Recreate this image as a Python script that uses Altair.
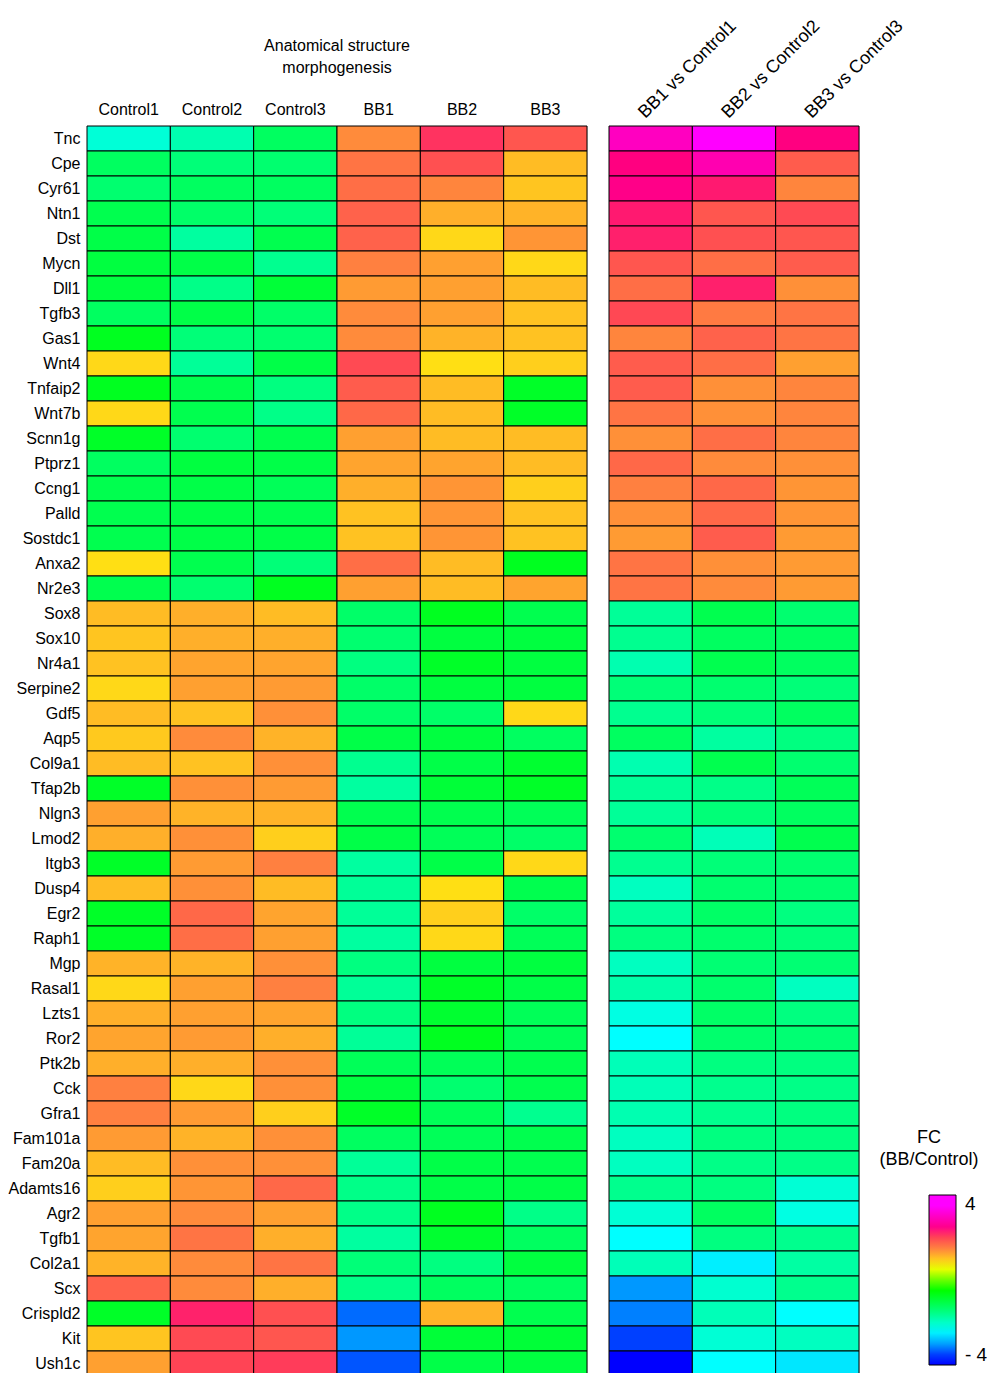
import altair as alt
import pandas as pd

genes = ["Tnc", "Cpe", "Cyr61", "Ntn1", "Dst", "Mycn", "Dll1", "Tgfb3", "Gas1", "Wnt4",
         "Tnfaip2", "Wnt7b", "Scnn1g", "Ptprz1", "Ccng1", "Palld", "Sostdc1", "Anxa2", "Nr2e3", "Sox8",
         "Sox10", "Nr4a1", "Serpine2", "Gdf5", "Aqp5", "Col9a1", "Tfap2b", "Nlgn3", "Lmod2", "Itgb3",
         "Dusp4", "Egr2", "Raph1", "Mgp", "Rasal1", "Lzts1", "Ror2", "Ptk2b", "Cck", "Gfra1",
         "Fam101a", "Fam20a", "Adamts16", "Agr2", "Tgfb1", "Col2a1", "Scx", "Crispld2", "Kit", "Ush1c"]

samples = ["Control1", "Control2", "Control3", "BB1", "BB2", "BB3"]
comparisons = ["BB1 vs Control1", "BB2 vs Control2", "BB3 vs Control3"]

control1 = [-2.12, -1.25, -1.37, -1.12, -1.06, -1.0, -1.0, -1.25, -0.75, 0.9,
            -0.75, 0.9, -0.81, -1.25, -1.12, -1.12, -1.12, 0.85, -1.12, 1.05,
            1.0, 1.02, 0.9, 1.05, 0.98, 1.05, -0.81, 1.2, 1.12, -0.81,
            1.05, -0.81, -0.81, 1.1, 0.9, 1.12, 1.18, 1.12, 1.5, 1.5,
            1.25, 1.05, 0.95, 1.2, 1.18, 1.1, 1.75, -0.81, 1.0, 1.2]
control2 = [-1.84, -1.44, -1.25, -1.31, -1.73, -1.06, -1.56, -1.06, -1.44, -1.67,
            -1.12, -1.12, -1.37, -1.0, -1.06, -1.06, -1.06, -1.12, -1.37, 1.12,
            1.12, 1.18, 1.2, 1.02, 1.4, 1.02, 1.35, 1.1, 1.35, 1.25,
            1.35, 1.7, 1.65, 1.1, 1.2, 1.2, 1.25, 1.12, 0.9, 1.25,
            1.1, 1.35, 1.3, 1.4, 1.6, 1.4, 1.4, 2.2, 1.95, 2.0]
control3 = [-1.25, -1.37, -1.25, -1.44, -1.12, -1.61, -0.94, -1.31, -1.37, -1.06,
            -1.5, -1.56, -1.12, -1.06, -1.19, -1.12, -1.06, -1.44, -0.75, 1.05,
            1.12, 1.18, 1.25, 1.35, 1.1, 1.35, 1.25, 1.1, 0.95, 1.5,
            1.05, 1.18, 1.2, 1.35, 1.5, 1.18, 1.12, 1.35, 1.35, 0.95,
            1.35, 1.35, 1.7, 1.2, 1.12, 1.6, 1.12, 1.9, 1.85, 2.05]
bb1 = [1.4, 1.6, 1.65, 1.75, 1.75, 1.5, 1.25, 1.4, 1.4, 1.95,
       1.8, 1.7, 1.2, 1.18, 1.12, 1.02, 1.02, 1.65, 1.2, -1.31,
       -1.37, -1.5, -1.31, -1.31, -1.06, -1.61, -1.73, -1.12, -1.06, -1.73,
       -1.67, -1.67, -1.73, -1.5, -1.67, -1.5, -1.67, -1.19, -1.0, -0.81,
       -1.25, -1.67, -1.56, -1.56, -1.73, -1.44, -1.56, -3.3, -3.05, -3.4]
bb2 = [2.1, 1.9, 1.45, 1.12, 0.9, 1.2, 1.2, 1.2, 1.1, 0.85,
       1.05, 1.05, 1.05, 1.18, 1.3, 1.3, 1.3, 1.05, 1.05, -0.75,
       -1.0, -0.81, -1.0, -1.31, -1.0, -1.06, -0.94, -1.12, -1.19, -1.06,
       0.85, 0.95, 0.9, -1.0, -0.81, -0.875, -0.75, -1.19, -1.37, -1.19,
       -1.19, -1.06, -1.06, -0.75, -0.875, -1.5, -1.25, 1.1, -0.94, -1.06]
bb3 = [1.85, 1.05, 1.0, 1.1, 1.3, 0.9, 1.05, 1.02, 1.02, 0.95,
       -0.81, -0.81, 1.05, 1.05, 0.95, 1.02, 1.02, -0.75, 1.18, -1.12,
       -1.0, -1.0, -1.0, 0.9, -1.25, -0.875, -0.81, -1.19, -1.31, 0.9,
       -1.12, -1.31, -1.19, -1.0, -1.06, -1.19, -1.19, -1.12, -1.12, -1.61,
       -1.12, -1.12, -1.06, -1.56, -1.25, -1.0, -1.25, -1.12, -0.94, -1.0]

fc_bb1 = [2.95, 2.4, 2.47, 2.25, 2.21, 1.85, 1.65, 1.97, 1.45, 1.8,
          1.8, 1.6, 1.35, 1.7, 1.5, 1.35, 1.25, 1.6, 1.6, -1.67,
          -1.61, -1.84, -1.44, -1.61, -1.25, -1.84, -1.67, -1.67, -1.37, -1.61,
          -1.95, -1.7, -1.5, -1.95, -1.8, -2.2, -2.4, -1.9, -1.9, -1.85,
          -1.95, -1.95, -1.6, -2.1, -2.4, -1.9, -3.05, -3.2, -3.5, -3.95]
fc_bb2 = [3.8, 2.82, 2.25, 1.85, 1.9, 1.65, 2.21, 1.55, 1.75, 1.65,
          1.35, 1.35, 1.65, 1.4, 1.7, 1.7, 1.8, 1.35, 1.4, -1.12,
          -1.25, -1.12, -1.37, -1.44, -1.73, -1.12, -1.56, -1.44, -1.9, -1.44,
          -1.37, -1.3, -1.35, -1.4, -1.35, -1.3, -1.35, -1.5, -1.6, -1.6,
          -1.5, -1.55, -1.5, -1.25, -1.5, -2.5, -2.07, -1.9, -2.1, -2.4]
fc_bb3 = [2.4, 1.8, 1.45, 1.95, 1.85, 1.8, 1.35, 1.6, 1.6, 1.2,
          1.45, 1.45, 1.45, 1.35, 1.3, 1.3, 1.25, 1.25, 1.25, -1.37,
          -1.25, -1.25, -1.44, -1.25, -1.5, -1.37, -1.19, -1.25, -1.12, -1.37,
          -1.37, -1.5, -1.45, -1.4, -1.95, -1.5, -1.4, -1.5, -1.55, -1.5,
          -1.5, -1.55, -2.1, -2.2, -1.6, -1.75, -1.6, -2.4, -1.95, -2.55]

fc_domain = [-4, -3.8, -3.2, -2.4, -1.5, -0.5, 0.1, 0.6, 0.9, 1.2, 1.5, 2.0, 2.4, 3.5, 4]
fc_colors = ["#0000ff", "#0000ff", "#0080ff", "#00ffff", "#00ff80", "#00ff00", "#80ff00",
             "#ffff00", "#ffd818", "#ffa030", "#ff8040", "#ff4455", "#ff0080", "#ff00ff", "#ff00ff"]

left_cols = [control1, control2, control3, bb1, bb2, bb3]
right_cols = [fc_bb1, fc_bb2, fc_bb3]

left_df = pd.DataFrame([{"gene": g, "sample": s, "value": v}
                        for s, col in zip(samples, left_cols) for g, v in zip(genes, col)])
right_df = pd.DataFrame([{"gene": g, "comparison": c, "value": v}
                         for c, col in zip(comparisons, right_cols) for g, v in zip(genes, col)])

FONT = "Liberation Sans"
ROW_H = 1250

color = alt.Color(
    "value:Q",
    scale=alt.Scale(domain=fc_domain, range=fc_colors, interpolate="rgb"),
    legend=alt.Legend(
        title=["FC", "(BB/Control)"],
        orient="none", legendX=792, legendY=1003,
        direction="vertical",
        values=[-4, 4],
        labelExpr="datum.value < 0 ? '- 4' : '4'",
        gradientLength=170, gradientThickness=27,
        gradientStrokeColor="black", gradientStrokeWidth=1,
        titleFontSize=18, labelFontSize=19, titleFontWeight="normal",
        titleAnchor="start", titleAlign="center", titlePadding=26, titleLineHeight=22,
        labelOffset=9, padding=0, titleColor="black", labelColor="black",
        labelFont=FONT, titleFont=FONT,
    ),
)

left = alt.Chart(left_df).mark_rect(stroke="black", strokeWidth=1).encode(
    x=alt.X("sample:N", sort=samples, scale=alt.Scale(paddingInner=0, paddingOuter=0),
            axis=alt.Axis(orient="top", title=None, labelAngle=0, labelFontSize=16, labelPadding=9,
                          ticks=False, domain=False, labelColor="black", labelFont=FONT)),
    y=alt.Y("gene:N", sort=genes, scale=alt.Scale(paddingInner=0, paddingOuter=0),
            axis=alt.Axis(title=None, labelFontSize=16, labelPadding=7, ticks=False, domain=False,
                          labelColor="black", labelFont=FONT)),
    color=color,
).properties(
    width=500, height=ROW_H,
    title=alt.TitleParams(["Anatomical structure", "morphogenesis"], fontSize=16, fontWeight="normal",
                          anchor="middle", offset=25, lineHeight=22, color="black", font=FONT),
)

right = alt.Chart(right_df).mark_rect(stroke="black", strokeWidth=1).encode(
    x=alt.X("comparison:N", sort=comparisons, scale=alt.Scale(paddingInner=0, paddingOuter=0),
            axis=alt.Axis(orient="top", title=None, labelAngle=315, labelAlign="left",
                          labelBaseline="middle", labelFontSize=18, labelPadding=11, labelOffset=-9,
                          ticks=False, domain=False, labelOverlap=False, labelColor="black",
                          labelFont=FONT)),
    y=alt.Y("gene:N", sort=genes, scale=alt.Scale(paddingInner=0, paddingOuter=0), axis=None),
    color=color,
).properties(width=250, height=ROW_H)

chart = alt.hconcat(left, right, spacing=22, bounds="flush").properties(
    padding={"left": -1, "top": 8, "right": 0, "bottom": -4}
).configure_view(stroke=None).configure(font=FONT)

chart.save("out.html", embed_options={"renderer": "svg", "actions": False})
